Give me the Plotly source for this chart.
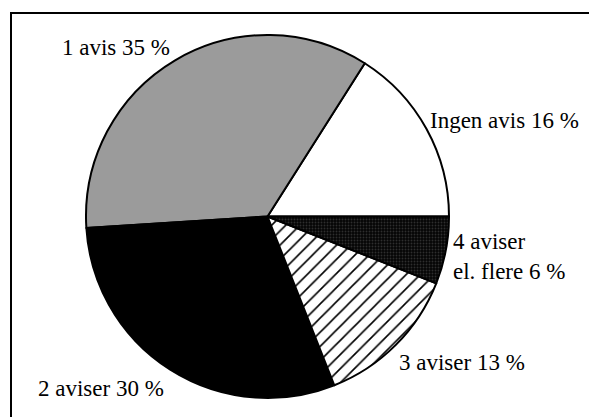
import plotly.graph_objects as go

categories = ["Ingen avis", "1 avis", "2 aviser", "3 aviser", "4 aviser el. flere"]
values = [16, 35, 30, 13, 6]
label_texts = ["Ingen avis 16 %", "1 avis 35 %", "2 aviser 30 %", "3 aviser 13 %", "4 aviser<br>el. flere 6 %"]

W, H = 597, 417
OFF = 8  # page body margin shifts the figure by this many pixels


def px(x):
    return (x - OFF) / W


def py(y):
    return 1 - (y - OFF) / H


# first slice must start at 3 o'clock and run counterclockwise
rotation = 90 - 360 * values[0] / sum(values)

fig = go.Figure(go.Pie(
    labels=categories,
    values=values,
    sort=False,
    direction="counterclockwise",
    rotation=rotation,
    textinfo="none",
    hoverinfo="label+percent",
    showlegend=False,
    domain=dict(x=[px(86), px(449)], y=[py(400), py(33)]),
    marker=dict(
        colors=["white", "white", "black", "white", "black"],
        line=dict(color="black", width=2),
        pattern=dict(
            shape=["", ".", "", "/", "."],
            fgcolor=["black", "#1a1a1a", "black", "black", "#2e2e2e"],
            bgcolor=["white", "#f2f2f2", "black", "white", "#050505"],
            size=[8, 2, 8, 10, 3],
            solidity=[0.3, 0.45, 0.3, 0.16, 0.3],
            fillmode="replace",
        ),
    ),
))

font = dict(family="Liberation Serif, Times New Roman, serif", size=23, color="black")

# label positions (pixel coords of left edge / vertical centre)
label_pos = [(428, 120), (60, 48), (36, 388), (397, 362), (451, 257)]
annotations = []
for txt, (lx, ly) in zip(label_texts, label_pos):
    annotations.append(dict(
        text=txt, x=px(lx), y=py(ly), xref="paper", yref="paper",
        xanchor="left", yanchor="middle", showarrow=False, align="left",
        font=font,
    ))

fig.update_layout(
    width=W, height=H,
    margin=dict(l=0, r=0, t=0, b=0),
    paper_bgcolor="white",
    plot_bgcolor="white",
    annotations=annotations,
    shapes=[dict(type="rect", xref="paper", yref="paper",
                 x0=px(11), x1=1.05, y0=-0.05, y1=py(13),
                 line=dict(color="black", width=2), fillcolor="rgba(0,0,0,0)")],
)

fig.write_html("out.html")
